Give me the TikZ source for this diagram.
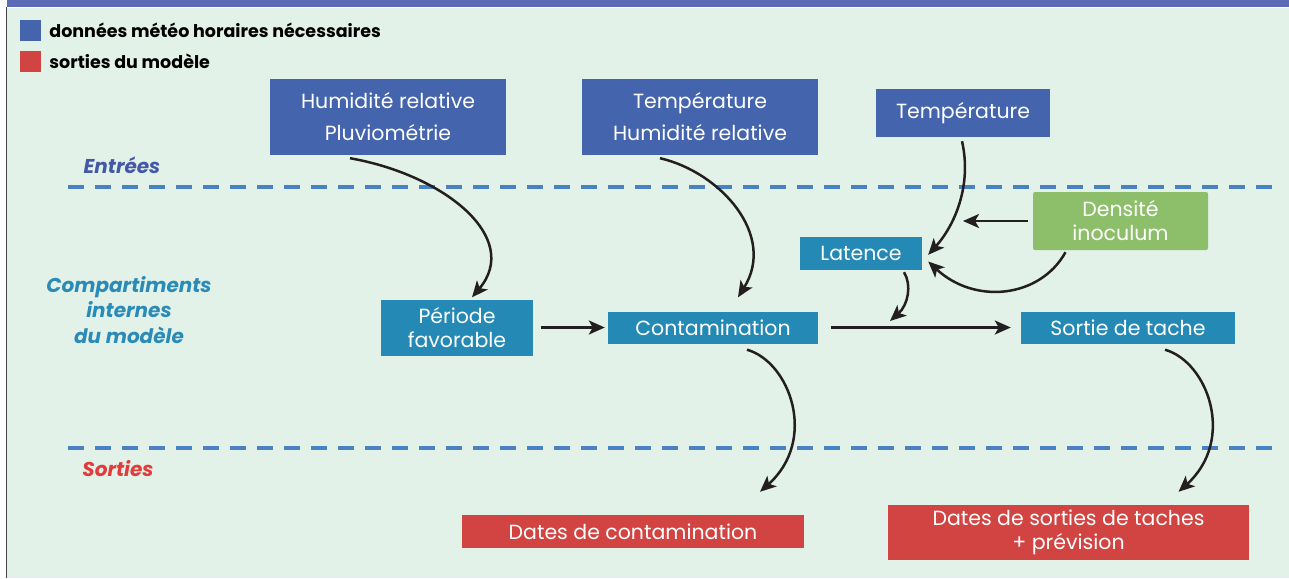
\documentclass[tikz,border=0pt]{standalone}
\usepackage{fontspec}
\setmainfont{Poppins}
\usetikzlibrary{positioning,arrows.meta}
\definecolor{bandcol}{HTML}{5B6BB5}
\definecolor{bgcol}{HTML}{E2F2E8}
\definecolor{incol}{HTML}{4464AE}
\definecolor{midcol}{HTML}{2589B6}
\definecolor{outcol}{HTML}{D14441}
\definecolor{greencol}{HTML}{8DBF6B}
\definecolor{dashcol}{HTML}{4A80C4}
\definecolor{entcol}{HTML}{4458A8}
\definecolor{compcol}{HTML}{2B8BB8}
\definecolor{sortcol}{HTML}{E33B3B}
\definecolor{arrowcol}{HTML}{231F20}

\begin{document}
\begin{tikzpicture}[x=1pt,y=-1pt,>={Stealth[length=16pt,width=14pt,inset=4pt]},
  flow/.style={->,line width=2.5pt,draw=arrowcol},
  box/.style={inner sep=0pt,align=center,text=white,font=\fontsize{20.5}{24}\selectfont},
  inbox/.style={box,fill=incol},
  midbox/.style={box,fill=midcol},
  outbox/.style={box,fill=outcol},
  zone/.style={font=\fontsize{20}{25.5}\selectfont\bfseries\itshape,align=center},
  sep/.style={draw=dashcol,line width=4pt,dash pattern=on 16pt off 11pt}]
\useasboundingbox (0,0) rectangle (1289,578);
% background and frame
\fill[bgcol] (7,8) rectangle (1289,578);
\fill[bandcol] (7,0) rectangle (1289,7.5);
\draw[line width=1.5pt,arrowcol!85] (6.5,7.5) -- (6.5,578);

% legend
\node[fill=incol,inner sep=0pt,minimum size=21pt] (keyin) at (30.5,30.5) {};
\node[fill=outcol,inner sep=0pt,minimum size=21pt] (keyout) at (30.5,61.5) {};
\node[right=8pt of keyin,inner sep=0pt,font=\fontsize{17.5}{20}\selectfont\bfseries] (keyintxt) {données météo horaires nécessaires};
\node[right=8pt of keyout,inner sep=0pt,font=\fontsize{17.5}{20}\selectfont\bfseries] (keyouttxt) {sorties du modèle};

% zones
\draw[sep] (68,187) -- (1280,187);
\draw[sep] (68,448) -- (1280,448);
\node[zone,text=entcol] (entrees) at (122,165) {Entrées};
\node[zone,text=compcol] (internes) at (129,310) {Compartiments\\internes\\du modèle};
\node[zone,text=sortcol] (sorties) at (118,469) {Sorties};

% inputs
\node[inbox,minimum width=236pt,minimum height=76pt] (humid) at (388,117) {Humidité relative\\[8pt]Pluviométrie};
\node[inbox,minimum width=236pt,minimum height=76pt] (tempa) at (700,117) {Température\\[8pt]Humidité relative};
\node[inbox,minimum width=174pt,minimum height=48pt] (tempb) at (963,113) {Température};
\node[box,fill=greencol,rounded corners=2pt,minimum width=175pt,minimum height=58pt] (inoc) at (1120.5,221) {Densité\\inoculum};

% compartments
\node[midbox,minimum width=152pt,minimum height=56pt] (periode) at (457,327.5) {Période\\favorable};
\node[midbox,minimum width=210pt,minimum height=32pt] (contam) at (713,327.5) {Contamination};
\node[midbox,minimum width=122pt,minimum height=33pt] (latence) at (861,253.5) {Latence};
\node[midbox,minimum width=214pt,minimum height=32pt] (sortie) at (1128,327.5) {Sortie de tache};

% outputs
\node[outbox,minimum width=342pt,minimum height=33pt] (datecont) at (633,531.5) {Dates de contamination};
\node[outbox,minimum width=361pt,minimum height=55pt] (datetach) at (1068.5,532.5) {Dates de sorties de taches\\+ prévision};

% connectors
\coordinate (inocend) at (963,221);
\coordinate (latend) at (890,321);
\draw[flow] ([xshift=-38pt,yshift=-3pt]humid.south) .. controls (445,175) and (522,238) .. ([xshift=15pt,yshift=2pt]periode.north);
\draw[flow] ([xshift=-40pt,yshift=-3pt]tempa.south) .. controls (720,172) and (777,235) .. ([xshift=25pt,yshift=14pt]contam.north);
\draw[flow] ([xshift=-1pt,yshift=-4pt]tempb.south) .. controls (972,185) and (955,225) .. ([xshift=6pt,yshift=-18pt]latence.north east);
\draw[flow] ([xshift=-5pt]inoc.west) -- (inocend);
\draw[flow] ([xshift=-55pt,yshift=-2pt]inoc.south) .. controls (1040,298) and (975,305) .. ([xshift=6pt,yshift=-8pt]latence.east);
\draw[flow] ([xshift=43pt,yshift=-2pt]latence.south) .. controls (912,285) and (908,305) .. (latend);
\draw[flow] ([xshift=8pt]periode.east) -- ([xshift=-3pt]contam.west);
\draw[flow] ([xshift=13pt]contam.east) -- ([xshift=-10pt]sortie.west);
\draw[flow] ([xshift=34pt,yshift=-6pt]contam.south) .. controls (790,362) and (818,440) .. ([xshift=127pt,yshift=23pt]datecont.north);
\draw[flow] ([xshift=37pt,yshift=-6pt]sortie.south) .. controls (1208,362) and (1236,440) .. ([xshift=110pt,yshift=13pt]datetach.north);
\end{tikzpicture}
\end{document}
